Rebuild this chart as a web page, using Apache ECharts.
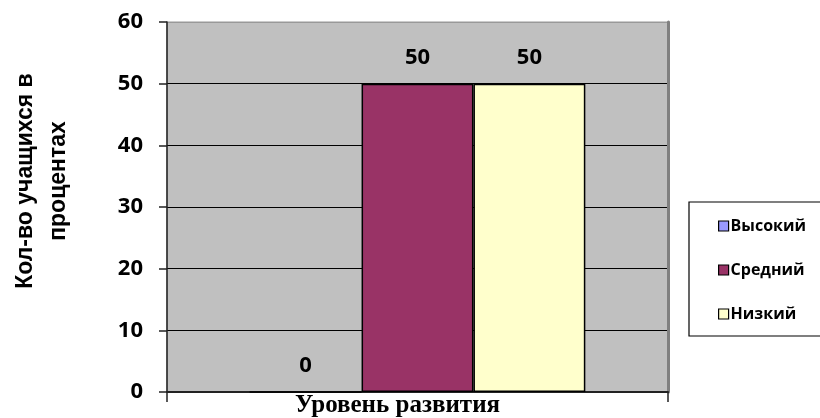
<!DOCTYPE html>
<html>
<head>
<meta charset="utf-8">
<script src="https://cdn.jsdelivr.net/npm/echarts@6/dist/echarts.min.js"></script>
<style>
  html, body { margin: 0; padding: 0; background: #fff; }
  #chart { width: 820px; height: 418px; }
</style>
</head>
<body>
<div id="chart"></div>
<script>
// Single category group with three development levels
const categories = [''];
const seriesNames = ['Высокий', 'Средний', 'Низкий'];
const valuesHigh = [0];
const valuesMid = [50];
const valuesLow = [50];
const yTicks = [0, 10, 20, 30, 40, 50, 60];

const colors = ['#9999FF', '#993366', '#FFFFCC'];
const seriesValues = [valuesHigh, valuesMid, valuesLow];

const chart = echarts.init(document.getElementById('chart'), null, { renderer: 'canvas' });

const labelFont = { fontFamily: 'Open Sans', fontWeight: 'bold', fontSize: 22, color: '#000' };

const option = {
  animation: false,
  backgroundColor: '#ffffff',
  grid: {
    left: 167, top: 22, right: 152, bottom: 26,
    outerBoundsMode: 'none',
    containLabel: false,
    show: true,
    backgroundColor: '#C0C0C0',
    borderColor: '#999999',
    borderWidth: 1
  },
  legend: {
    orient: 'vertical',
    left: 713,
    top: 213,
    icon: 'rect',
    itemWidth: 10,
    itemHeight: 10,
    itemGap: 28,
    data: seriesNames,
    itemStyle: { borderColor: '#000', borderWidth: 1.2 },
    textStyle: { fontFamily: 'Open Sans', fontWeight: 'bold', fontSize: 16, color: '#000', padding: [0, 0, 0, -3] }
  },
  graphic: [
    {
      type: 'rect',
      shape: { x: 689, y: 202, width: 150, height: 134 },
      style: { fill: '#fff', stroke: '#000', lineWidth: 1.2 },
      z: -1
    }
  ],
  xAxis: {
    type: 'category',
    data: categories,
    name: 'Уровень развития',
    nameLocation: 'middle',
    nameGap: 1,
    nameTextStyle: {
      fontFamily: 'Liberation Serif', fontWeight: 'bold', fontSize: 25, color: '#000',
      verticalAlign: 'top',
      padding: [0, 40, 0, 0]
    },
    axisLine: { lineStyle: { color: '#222', width: 2 } },
    axisTick: { show: true, length: 10, lineStyle: { color: '#222', width: 1.5 } },
    axisLabel: { show: false }
  },
  yAxis: [
    {
      type: 'value',
      min: yTicks[0],
      max: yTicks[yTicks.length - 1],
      interval: 10,
      name: 'Кол-во учащихся в\nпроцентах',
      nameLocation: 'middle',
      nameGap: 92,
      nameRotate: 90,
      nameTextStyle: {
        fontFamily: 'Liberation Sans', fontWeight: 'bold', fontSize: 23, color: '#000',
        lineHeight: 33,
        padding: [0, 0, 0, 52]
      },
      axisLine: { show: true, lineStyle: { color: '#222', width: 1.5 } },
      axisTick: { show: true, length: 8, lineStyle: { color: '#222', width: 1.5 } },
      axisLabel: Object.assign({ margin: 24 }, labelFont),
      splitLine: {
        show: true,
        lineStyle: { color: ['#000', '#000', '#000', '#000', '#000', '#000', '#999'], width: 1 }
      }
    },
    {
      type: 'value',
      position: 'right',
      min: yTicks[0],
      max: yTicks[yTicks.length - 1],
      interval: 10,
      axisLine: { show: true, lineStyle: { color: '#808080', width: 3 } },
      axisTick: { show: false },
      axisLabel: { show: false },
      splitLine: { show: false }
    }
  ],
  series: seriesNames.map((name, i) => ({
    name: name,
    type: 'bar',
    data: seriesValues[i],
    barGap: '0%',
    barCategoryGap: '33%',
    itemStyle: { color: colors[i], borderColor: '#000', borderWidth: 1.5 },
    label: Object.assign({ show: true, position: 'top', distance: 15 }, labelFont)
  }))
};

chart.setOption(option);
</script>
</body>
</html>
